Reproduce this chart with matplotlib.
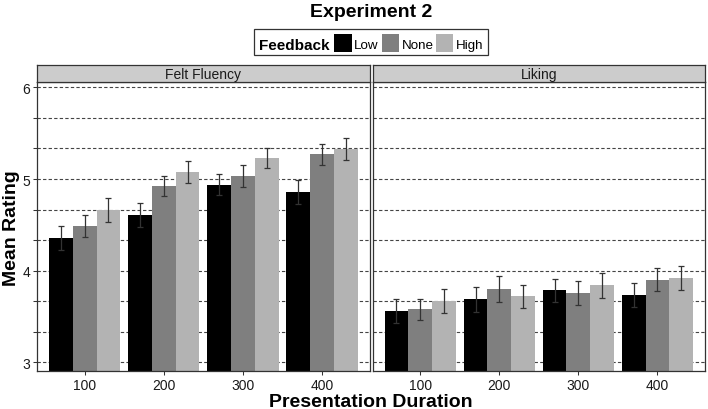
import numpy as np
import matplotlib
matplotlib.use('Agg')
import matplotlib.pyplot as plt
from matplotlib.patches import Rectangle
from matplotlib.ticker import FixedLocator

plt.rcParams['font.family'] = ['Liberation Sans', 'DejaVu Sans']

# values (mean rating and error bar half-length)
durations = ['100', '200', '300', '400']
levels = ['Low', 'None', 'High']
panels = ['Felt Fluency', 'Liking']

fluency_low = [4.36, 4.61, 4.94, 4.855]
fluency_none = [4.487, 4.927, 5.033, 5.269]
fluency_high = [4.665, 5.08, 5.229, 5.331]
fluency_low_err = [0.13, 0.13, 0.11, 0.13]
fluency_none_err = [0.123, 0.107, 0.123, 0.115]
fluency_high_err = [0.13, 0.12, 0.105, 0.118]

liking_low = [3.56, 3.688, 3.786, 3.732]
liking_none = [3.579, 3.80, 3.76, 3.90]
liking_high = [3.67, 3.72, 3.84, 3.917]
liking_low_err = [0.135, 0.134, 0.124, 0.13]
liking_none_err = [0.118, 0.138, 0.13, 0.125]
liking_high_err = [0.13, 0.125, 0.135, 0.13]

colors = ['#000000', '#7f7f7f', '#b3b3b3']
edge = '#333333'

W, H = 708, 410
fig = plt.figure(figsize=(W / 100, H / 100), dpi=100)


def fx(px):
    return px / W


def fy(py):
    return 1 - py / H


panel_x = [37.3, 372.7]
panel_w = 332.2
top, bottom, strip_top = 83.3, 371.7, 66.0

data = [
    ([fluency_low, fluency_none, fluency_high],
     [fluency_low_err, fluency_none_err, fluency_high_err]),
    ([liking_low, liking_none, liking_high],
     [liking_low_err, liking_none_err, liking_high_err]),
]

thirds = [3 + k / 3 for k in range(10)]
x = np.arange(len(durations))

for p in range(2):
    ax = fig.add_axes([fx(panel_x[p]), fy(bottom), panel_w / W, (bottom - top) / H])
    means, errs = data[p]
    for j in range(3):
        xpos = x + (j - 1) * 0.3
        ax.bar(xpos, means[j], width=0.3, color=colors[j], zorder=2)
        ax.errorbar(xpos, means[j], yerr=errs[j], fmt='none', ecolor=edge,
                    elinewidth=0.9, capsize=2, capthick=0.9, zorder=3)
    ax.set_xlim(-0.6, 3.6)
    ax.set_ylim(2.91, 6.055)
    ax.set_xticks(x)
    ax.set_xticklabels(durations)
    ax.yaxis.set_major_locator(FixedLocator([3, 4, 5, 6]))
    ax.yaxis.set_minor_locator(FixedLocator(thirds))
    ax.grid(which='both', axis='y', linestyle=(0, (3, 2)), color='#444444', lw=0.8)
    ax.set_axisbelow(True)
    ax.tick_params(axis='both', which='both', direction='out', length=3.1, width=0.75,
                   color=edge, labelsize=10, labelcolor='#1a1a1a', pad=2)
    if p == 1:
        ax.tick_params(axis='y', which='both', length=0, labelleft=False)
    for s in ax.spines.values():
        s.set_color(edge)
        s.set_linewidth(0.9)

    # facet strip
    sax = fig.add_axes([fx(panel_x[p]), fy(top), panel_w / W, (top - strip_top) / H])
    sax.set_facecolor('#cccccc')
    sax.set_xticks([])
    sax.set_yticks([])
    for s in sax.spines.values():
        s.set_color(edge)
        s.set_linewidth(0.9)
    sax.text(0.5, 0.5, panels[p], transform=sax.transAxes, ha='center', va='center',
             fontsize=10, color='#1a1a1a')

# title and axis labels
fig.text(fx(371), fy(16.7), 'Experiment 2', ha='center', va='baseline',
         fontsize=14, fontweight='bold')
fig.text(fx(371), fy(407), 'Presentation Duration', ha='center', va='baseline',
         fontsize=14, fontweight='bold')
fig.text(fx(12), fy(228), 'Mean Rating', ha='center', va='center', rotation=90,
         fontsize=14, fontweight='bold')

# legend
fig.patches.append(Rectangle((fx(254.3), fy(56)), (487.7 - 254.3) / W, 26 / H,
                             transform=fig.transFigure, facecolor='white',
                             edgecolor=edge, lw=0.9))
fig.text(fx(259), fy(50), 'Feedback', ha='left', va='baseline', fontsize=11,
         fontweight='bold')
key_x = [334.3, 381.7, 436.0]
for j in range(3):
    fig.patches.append(Rectangle((fx(key_x[j]), fy(52.7)), 17.4 / W, 17.7 / H,
                                 transform=fig.transFigure, facecolor=colors[j],
                                 edgecolor='none'))
    fig.text(fx(key_x[j] + 20), fy(49.3), levels[j], ha='left', va='baseline',
             fontsize=9.6)

fig.savefig('out.png', dpi=100)
